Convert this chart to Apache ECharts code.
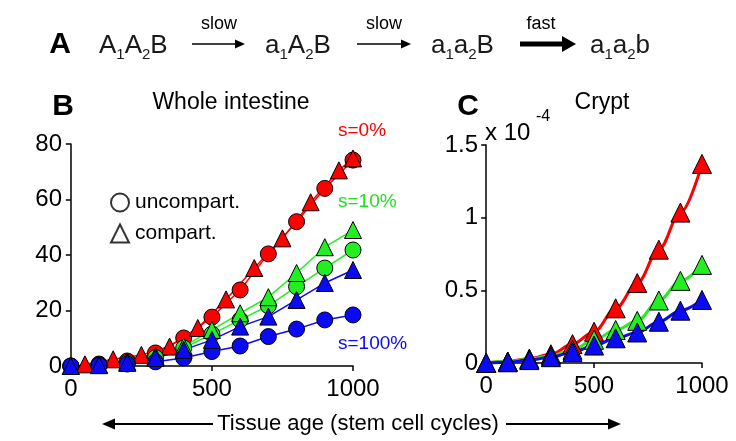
<!DOCTYPE html>
<html>
<head>
<meta charset="utf-8">
<script src="https://cdn.jsdelivr.net/npm/echarts@6/dist/echarts.min.js"></script>
<style>
html,body{margin:0;padding:0;background:#fff;}
#chart{width:736px;height:441px;}
</style>
</head>
<body>
<div id="chart"></div>
<script>
// ---- Data (panel B: whole intestine, cumulative risk %) ----
const ages = [0, 100, 200, 300, 400, 500, 600, 700, 800, 900, 1000];
const agesRedTri = [50, 150, 250, 350, 450, 550, 650, 750, 850, 950, 1000];
const redUncompart = [0, 0.7, 1.8, 4.7, 10.1, 17.6, 27.4, 40.4, 52, 64, 74.2];
const redCompart = [0.6, 2.4, 4, 7, 13.7, 24, 35.3, 46, 59, 70.5, 74.8];
const greenUncompart = [0, 0.4, 1.2, 3, 6.5, 11.5, 16.6, 21.7, 28.6, 35.3, 41.8];
const greenCompart = [0, 0.5, 1.5, 3.5, 7, 13, 19, 24.8, 33.5, 42.8, 49];
const blueUncompart = [0, 0.2, 0.7, 1.5, 2.9, 5.2, 7.2, 10.6, 13.3, 16.6, 18.4];
const blueCompart = [0, 0.3, 1.1, 2.9, 5.8, 9.4, 14.2, 17.8, 23.8, 29.9, 34.6];
// ---- Data (panel C: crypt, x 10^-4) ----
const cryptRed = [0, 0.01, 0.03, 0.06, 0.13, 0.215, 0.376, 0.55, 0.78, 1.035, 1.37];
const cryptGreen = [0, 0.01, 0.025, 0.05, 0.09, 0.16, 0.227, 0.29, 0.43, 0.565, 0.675];
const cryptBlue = [0, 0.005, 0.02, 0.04, 0.075, 0.12, 0.17, 0.21, 0.284, 0.36, 0.434];
// ---- Tick labels ----
const xTicks = [0, 500, 1000];
const yTicksB = [0, 20, 40, 60, 80];
const yTicksC = [0, 0.5, 1, 1.5];
// ---- Panel A scheme (text, subscript flag) ----
const states = [
  [['A',0],['1',1],['A',0],['2',1],['B',0]],
  [['a',0],['1',1],['A',0],['2',1],['B',0]],
  [['a',0],['1',1],['a',0],['2',1],['B',0]],
  [['a',0],['1',1],['a',0],['2',1],['b',0]]
];
const rates = ['slow', 'slow', 'fast'];

const RED = '#ff0000', GREEN = '#22ee22', BLUE = '#0a0af5';
const FONT = 'Liberation Sans, Arial, Helvetica, sans-serif';

function pairs(xs, ys){ return xs.map((x,i)=>[x, ys[i]]); }
const plain = (v)=>String(+(+v).toFixed(2));

const axisCommon = {
  axisLine:{show:true, lineStyle:{color:'#000', width:1.5}},
  axisTick:{show:true, length:5, lineStyle:{color:'#000', width:1.5}},
  splitLine:{show:false}
};
function xAxisFor(gi){
  return Object.assign({}, axisCommon, {
    type:'value', gridIndex:gi, min:-10, max:1000,
    axisTick:{show:true, length:5, lineStyle:{color:'#000', width:1.5}, customValues:xTicks},
    axisLabel:{color:'#000', fontSize:24, fontFamily:FONT, margin:11, customValues:xTicks, formatter:plain}
  });
}
function yAxisFor(gi, ticks){
  return Object.assign({}, axisCommon, {
    type:'value', gridIndex:gi, min:ticks[0], max:ticks[ticks.length-1],
    interval:ticks[1]-ticks[0],
    axisLabel:{color:'#000', fontSize:24, fontFamily:FONT, margin:6, formatter:plain}
  });
}
function lineSeries(xi, data, color, width, smooth){
  return {type:'line', xAxisIndex:xi, yAxisIndex:xi, data:data, symbol:'none', clip:false,
    smooth: smooth ? 0.35 : false, smoothMonotone: smooth ? 'x' : undefined,
    lineStyle:{color:color, width:width}, z:2, silent:true, animation:false};
}
function markSeries(xi, data, color, sym, size, z){
  return {type:'scatter', xAxisIndex:xi, yAxisIndex:xi, data:data, symbol:sym, symbolSize:size, clip:false,
    itemStyle:{color:color, borderColor:'#000', borderWidth:1, opacity:1}, z:z, animation:false};
}

const series = [
  lineSeries(0, pairs(ages, redUncompart), RED, 1.5),
  lineSeries(0, pairs(agesRedTri, redCompart), RED, 1.5),
  lineSeries(0, pairs(ages, greenUncompart), GREEN, 1.5),
  lineSeries(0, pairs(ages, greenCompart), GREEN, 1.5),
  lineSeries(0, pairs(ages, blueUncompart), BLUE, 1.5),
  lineSeries(0, pairs(ages, blueCompart), BLUE, 1.5),
  markSeries(0, pairs(ages, redUncompart), RED, 'circle', 16, 3),
  markSeries(0, pairs(agesRedTri, redCompart), RED, 'triangle', 17, 4),
  markSeries(0, pairs(ages, greenUncompart), GREEN, 'circle', 16, 5),
  markSeries(0, pairs(ages, greenCompart), GREEN, 'triangle', 17, 6),
  markSeries(0, pairs(ages, blueUncompart), BLUE, 'circle', 16, 7),
  markSeries(0, pairs(ages, blueCompart), BLUE, 'triangle', 17, 8),
  lineSeries(1, pairs(ages, cryptRed), RED, 3, true),
  lineSeries(1, pairs(ages, cryptGreen), GREEN, 3, true),
  lineSeries(1, pairs(ages, cryptBlue), BLUE, 3, true),
  markSeries(1, pairs(ages, cryptRed), RED, 'triangle', 19, 4),
  markSeries(1, pairs(ages, cryptGreen), GREEN, 'triangle', 19, 5),
  markSeries(1, pairs(ages, cryptBlue), BLUE, 'triangle', 19, 6),
  {type:'scatter', name:'uncompart.', xAxisIndex:0, yAxisIndex:0, data:[], symbol:'circle',
    itemStyle:{color:'#fff', borderColor:'#000', borderWidth:1.2}},
  {type:'scatter', name:'compart.', xAxisIndex:0, yAxisIndex:0, data:[], symbol:'triangle',
    itemStyle:{color:'#fff', borderColor:'#000', borderWidth:1.2}}
];

function arrow(x1, x2, y, w, headL, headW){
  const dir = x2 > x1 ? 1 : -1;
  const xb = x2 - dir*headL;
  return [
    {type:'line', shape:{x1:x1, y1:y, x2:xb, y2:y}, style:{stroke:'#000', lineWidth:w}},
    {type:'polygon', shape:{points:[[x2,y],[xb,y-headW/2],[xb,y+headW/2]]}, style:{fill:'#000'}}
  ];
}
function label(x, y, txt, size, color, weight, align){
  return {type:'text', x:x, y:y, style:{text:txt, fontSize:size, fontFamily:FONT, fill:color||'#000',
    fontWeight:weight||'normal', textAlign:align||'center', textVerticalAlign:'middle'}};
}
const mctx = document.createElement('canvas').getContext('2d');
function measure(t, size){ mctx.font = size + 'px ' + FONT; return mctx.measureText(t).width; }
function formula(x0, yMid, parts){
  const out = []; let x = x0;
  parts.forEach(([t, sub])=>{
    const size = sub ? 15 : 26;
    out.push({type:'text', x:x, y: sub ? yMid + 9 : yMid,
      style:{text:t, fontSize:size, fontFamily:FONT, fill:'#1a1a1a', textAlign:'left', textVerticalAlign:'middle'}});
    x += measure(t, size);
  });
  return out;
}

const formulaX = [99, 265, 431, 590];
const rateX = [219, 384, 541];
const graphics = [
  label(60, 45, 'A', 30, '#000', 'bold'),
  ...formula(formulaX[0], 46, states[0]),
  ...formula(formulaX[1], 46, states[1]),
  ...formula(formulaX[2], 46, states[2]),
  ...formula(formulaX[3], 46, states[3]),
  label(rateX[0], 24, rates[0], 18),
  label(rateX[1], 24, rates[1], 18),
  label(rateX[2], 24, rates[2], 18),
  ...arrow(192, 245, 44, 1.5, 10, 9),
  ...arrow(357, 411, 44, 1.5, 10, 9),
  ...arrow(520, 576, 44, 5, 14, 16),
  label(63, 107, 'B', 30, '#000', 'bold'),
  label(231, 103, 'Whole intestine', 23),
  label(468, 107, 'C', 30, '#000', 'bold'),
  label(602, 103, 'Crypt', 23),
  {type:'text', x:485, y:133, style:{text:'x 10', fontSize:24, fontFamily:FONT, fill:'#000', textAlign:'left', textVerticalAlign:'middle'}},
  {type:'text', x:536, y:117, style:{text:'-4', fontSize:16, fontFamily:FONT, fill:'#000', textAlign:'left', textVerticalAlign:'middle'}},
  label(338, 131, 's=0%', 19, RED, 'normal', 'left'),
  label(338, 202, 's=10%', 19, '#22dd22', 'normal', 'left'),
  label(338, 344, 's=100%', 19, BLUE, 'normal', 'left'),
  label(358, 424, 'Tissue age (stem cell cycles)', 22),
  ...arrow(213, 102, 424, 2, 13, 11),
  ...arrow(506, 621, 424, 2, 13, 11)
];

const option = {
  animation:false,
  backgroundColor:'#fff',
  textStyle:{fontFamily:FONT},
  grid:[
    {left:68, top:144, width:285, height:222},
    {left:484, top:145, width:218, height:218}
  ],
  xAxis:[xAxisFor(0), xAxisFor(1)],
  yAxis:[yAxisFor(0, yTicksB), yAxisFor(1, yTicksC)],
  legend:{
    show:true, orient:'vertical', left:105, top:187, itemGap:10,
    itemWidth:18, itemHeight:18,
    data:[{name:'uncompart.', icon:'circle'}, {name:'compart.', icon:'triangle'}],
    textStyle:{fontSize:21, fontFamily:FONT, color:'#000', padding:[0,0,0,1]},
    selectedMode:false
  },
  graphic:graphics,
  series:series
};

const chart = echarts.init(document.getElementById('chart'), null, {renderer:'canvas'});
chart.setOption(option);
</script>
</body>
</html>
